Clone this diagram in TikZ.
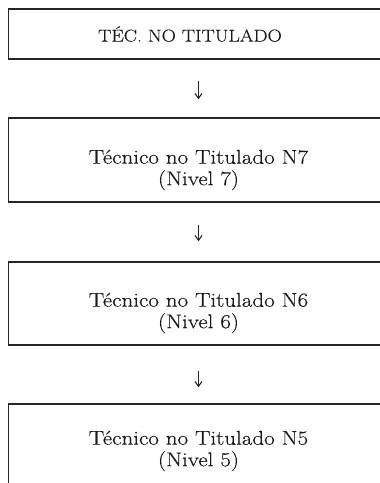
\documentclass[tikz,border=0pt]{standalone}
\usepackage{fontspec}
\usetikzlibrary{arrows.meta}
\newfontfamily\widefont{Latin Modern Roman}[FakeStretch=1.15,FakeBold=0.3]
\begin{document}
\begin{tikzpicture}[x=1pt,y=-1pt,
  box/.style={draw=black!85, line width=1.3pt, minimum width=380pt, inner sep=0pt},
  lbl/.style={font=\widefont\fontsize{20}{21.5}\selectfont, align=center, text=black!90, inner sep=0pt},
  caps/.style={font=\widefont\fontsize{17.2}{20}\selectfont, text=black!90, inner sep=0pt},
  arr/.style={-{Straight Barb[length=5pt,width=7pt]}, line width=1.1pt, draw=black!85}]
\useasboundingbox (0,0) rectangle (380,483);
\node[box, minimum height=50pt] (b1) at (198.5,34) {};
\node[caps] (t1) at (190,34) {TÉC.\ NO TITULADO};
\node[box, minimum height=84pt] (b2) at (198.5,160) {};
\node[lbl] (t2) at (198.5,170) {Técnico no Titulado N7\\(Nivel 7)};
\node[box, minimum height=83pt] (b3) at (198.5,303.5) {};
\node[lbl] (t3) at (198.5,313) {Técnico no Titulado N6\\(Nivel 6)};
\node[box, minimum height=84pt] (b4) at (198.5,446) {};
\node[lbl] (t4) at (198.5,451) {Técnico no Titulado N5\\(Nivel 5)};
\draw[arr, shorten <=21pt, shorten >=18pt] (b1) -- (b2);
\draw[arr, shorten <=22pt, shorten >=20pt] (b2) -- (b3);
\draw[arr, shorten <=25pt, shorten >=16pt] (b3) -- (b4);
\end{tikzpicture}
\end{document}
